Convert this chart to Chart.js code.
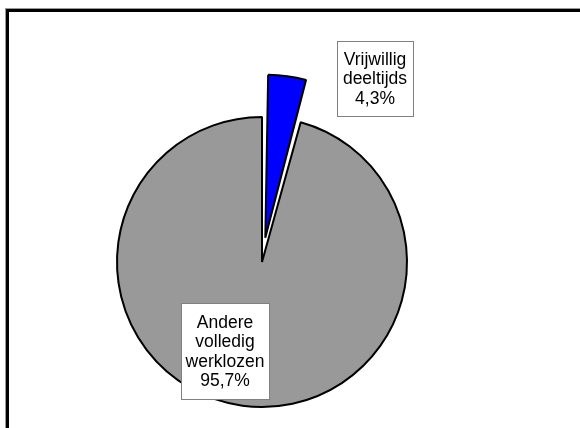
<!DOCTYPE html>
<html>
<head>
<meta charset="utf-8">
<script src="https://cdn.jsdelivr.net/npm/chart.js@4/dist/chart.umd.min.js"></script>
<style>
  html, body { margin: 0; padding: 0; background: #fff; overflow: hidden; width: 580px; height: 428px; }
  canvas { display: block; }
</style>
</head>
<body>
<canvas id="pie" width="580" height="428"></canvas>
<script>
// data
const categories = ["Vrijwillig deeltijds", "Andere volledig werklozen"];
const values = [4.3, 95.7];
const labelLines = [
    ["Vrijwillig", "deeltijds", "4,3%"],
    ["Andere", "volledig", "werklozen", "95,7%"]
];
const sliceColors = ["#0000ff", "#999999"];

// label boxes (center x, center y, width, height)
const boxes = [
    { x: 375, y: 78.5, w: 76, h: 75 },
    { x: 225, y: 351, w: 88, h: 96 }
];

// outer frame, only left and top edges fall inside the picture
const frame = {
    id: "frame",
    beforeDraw(chart) {
        const ctx = chart.ctx;
        ctx.save();
        ctx.fillStyle = "#fff";
        ctx.fillRect(0, 0, chart.width, chart.height);
        ctx.fillStyle = "#999";
        ctx.fillRect(5, 8, chart.width - 5, 1);
        ctx.fillRect(5, 8, 1, chart.height - 8);
        ctx.fillStyle = "#000";
        ctx.fillRect(6, 9, chart.width - 6, 3);
        ctx.fillRect(6, 9, 3, chart.height - 9);
        ctx.restore();
    }
};

const labelBoxes = {
    id: "labelBoxes",
    afterDatasetsDraw(chart) {
        const ctx = chart.ctx;
        ctx.save();
        ctx.font = "17.5px 'Liberation Sans', Arial, sans-serif";
        ctx.textAlign = "center";
        ctx.textBaseline = "middle";
        boxes.forEach((b, i) => {
            ctx.fillStyle = "#fff";
            ctx.fillRect(b.x - b.w / 2, b.y - b.h / 2, b.w, b.h);
            ctx.strokeStyle = "#808080";
            ctx.lineWidth = 1;
            ctx.strokeRect(Math.round(b.x - b.w / 2) + 0.5, Math.round(b.y - b.h / 2) + 0.5, b.w, b.h);
            ctx.fillStyle = "#000";
            const lines = labelLines[i];
            const lh = 19.5;
            lines.forEach((t, j) => {
                ctx.fillText(t, b.x, b.y + 1 + (j - (lines.length - 1) / 2) * lh);
            });
        });
        ctx.restore();
    }
};

new Chart(document.getElementById("pie"), {
    type: "pie",
    data: {
        labels: categories,
        datasets: [{
            data: values,
            backgroundColor: sliceColors,
            borderColor: "#000",
            borderWidth: 2,
            offset: [98, 0]
        }]
    },
    options: {
        responsive: false,
        animation: false,
        radius: 145,
        layout: { padding: { left: 0, right: 56, top: 96, bottom: 0 } },
        plugins: {
            legend: { display: false },
            tooltip: { enabled: false }
        }
    },
    plugins: [frame, labelBoxes]
});
</script>
</body>
</html>
